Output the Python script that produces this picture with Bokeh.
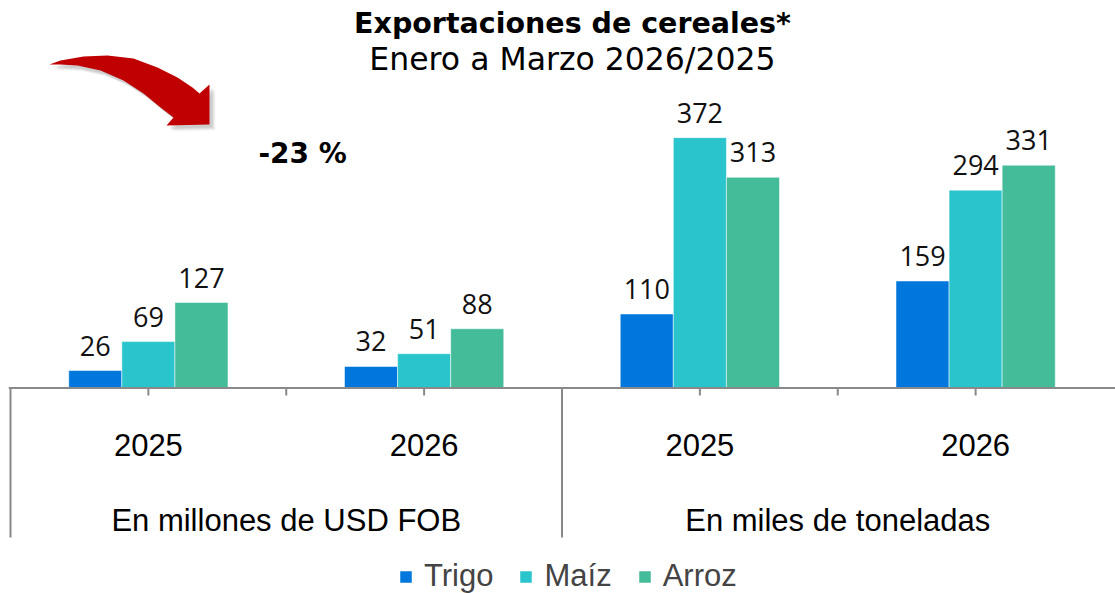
from bokeh.plotting import figure
from bokeh.models import (FactorRange, Range1d, ColumnDataSource, Span, Legend, LegendItem)
from bokeh.transform import dodge
from bokeh.core.properties import value
from bokeh.embed import file_html
from bokeh.resources import INLINE

# ---------------- data ----------------
groups = ["En millones de USD FOB", "En miles de toneladas"]
years = ["2025", "2026"]
series = ["Trigo", "Maíz", "Arroz"]
trigo = [26, 32, 110, 159]
maiz = [69, 51, 372, 294]
arroz = [127, 88, 313, 331]
colors = ["#0077DD", "#29C4CC", "#44BB99"]
title_1 = "Exportaciones de cereales*"
title_2 = "Enero a Marzo 2026/2025"
change_label = "-23 %"

factors = [(g, y) for g in groups for y in years]

W, H = 1115, 593
PX_PER_UNIT = 0.673
BASE = 387.5            # pixel row of the zero line
FRAME_LEFT = 8
PAD = 8 / 1103          # absolute padding so that category 0 starts at x = 10
UNIT_PX = (W - FRAME_LEFT) / (len(factors) + 2 * PAD)
ORIGIN = FRAME_LEFT + PAD * UNIT_PX


def ux(px):
    """pixel column -> synthetic categorical coordinate"""
    return (px - ORIGIN) / UNIT_PX


p = figure(x_range=FactorRange(*factors, factor_padding=0, group_padding=0,
                               range_padding=PAD, range_padding_units="absolute"),
           y_range=Range1d(-(H - BASE) / PX_PER_UNIT, BASE / PX_PER_UNIT),
           width=W, height=H, output_backend="svg", toolbar_location=None,
           x_axis_location=None, y_axis_location=None,
           min_border_left=FRAME_LEFT, min_border_right=0, min_border_top=0, min_border_bottom=0)
p.outline_line_color = None
p.xgrid.visible = False
p.ygrid.visible = False
p.background_fill_color = "white"
p.border_fill_color = "white"

# pixel-row range for decorations
p.extra_y_ranges = {"px": Range1d(H, 0)}

src = ColumnDataSource(dict(
    x=factors,
    trigo=trigo, maiz=maiz, arroz=arroz,
    trigo_l=[str(v) for v in trigo],
    maiz_l=[str(v) for v in maiz],
    arroz_l=[str(v) for v in arroz],
))

bw = 0.1925
offsets = [-bw, 0.0, bw]
cols = ["trigo", "maiz", "arroz"]
renderers = []
for col, off, c in zip(cols, offsets, colors):
    r = p.vbar(x=dodge("x", off, range=p.x_range), top=col, width=bw, source=src,
               fill_color=c, line_color="white", line_alpha=0.5, line_width=1)
    renderers.append(r)
    p.text(x=dodge("x", off, range=p.x_range), y=col, text=col + "_l", source=src,
           text_font=value("Open Sans"), text_font_size="27px", text_color="#111111",
           text_align="center", text_baseline="middle", y_offset=-25)

# axis line
p.add_layout(Span(location=0, dimension="width", line_color="#898989", line_width=2))

# ticks & separators
first = [f for f in factors if f[1] == years[0]]
p.segment(x0="x", x1="x", y0=BASE, y1=395, source=ColumnDataSource(dict(x=factors)),
          y_range_name="px", line_color="#898989", line_width=2)
p.segment(x0=dodge("x", 0.5, range=p.x_range), x1=dodge("x", 0.5, range=p.x_range),
          y0=BASE, y1=395, source=ColumnDataSource(dict(x=first)),
          y_range_name="px", line_color="#898989", line_width=2)
p.segment(x0=dodge("x", -0.5, range=p.x_range), x1=dodge("x", -0.5, range=p.x_range),
          y0=BASE, y1=537, source=ColumnDataSource(dict(x=first)),
          y_range_name="px", line_color="#898989", line_width=2)

# category labels
p.text(x="x", y=444.5, text="t", source=ColumnDataSource(dict(x=factors, t=[f[1] for f in factors])),
       y_range_name="px", text_font=value("Liberation Sans"), text_font_size="31px",
       text_color="black", text_align="center", text_baseline="middle")
p.text(x=dodge("x", 0.5, range=p.x_range), y=520, text="t",
       source=ColumnDataSource(dict(x=first, t=groups)),
       y_range_name="px", text_font=value("Liberation Sans"), text_font_size="31px",
       text_color="black", text_align="center", text_baseline="middle")

# title
p.text(x=[ux(572)], y=[22.5], text=[title_1], y_range_name="px",
       text_font=value("DejaVu Sans"), text_font_style="bold", text_font_size="28.5px",
       text_color="black", text_align="center", text_baseline="middle")
p.text(x=[ux(572)], y=[58.5], text=[title_2], y_range_name="px",
       text_font=value("DejaVu Sans"), text_font_size="31.5px",
       text_color="black", text_align="center", text_baseline="middle")

# change annotation
p.text(x=[ux(258)], y=[153], text=[change_label], y_range_name="px",
       text_font=value("DejaVu Sans"), text_font_style="bold", text_font_size="28px",
       text_color="black", text_align="left", text_baseline="middle")

# red curved arrow with shadow
ax = [49, 60, 83, 107, 133, 157, 177, 192, 199, 209, 209, 166, 173, 160, 143, 123, 100, 77, 60]
ay = [64, 60, 56, 55, 58, 67, 77, 87, 93, 84, 124, 125, 117, 107, 93, 80, 70, 65, 64]
for d, a in [(6, 0.06), (5, 0.08), (4, 0.10), (3, 0.12)]:
    p.patch([ux(v + d) for v in ax], [v + d for v in ay], y_range_name="px",
            fill_color="#666666", fill_alpha=a, line_color=None)
p.patch([ux(v) for v in ax], ay, y_range_name="px", fill_color="#C00000", line_color=None)

legend = Legend(items=[LegendItem(label=s, renderers=[r]) for s, r in zip(series, renderers)],
                orientation="horizontal", location=(390, -1),
                label_text_font="Liberation Sans", label_text_font_size="31px",
                glyph_width=15, glyph_height=15, label_standoff=11, spacing=25,
                padding=0, margin=0, background_fill_alpha=0, border_line_alpha=0)
p.add_layout(legend, "center")

open("out.html", "w").write(file_html(p, INLINE))
